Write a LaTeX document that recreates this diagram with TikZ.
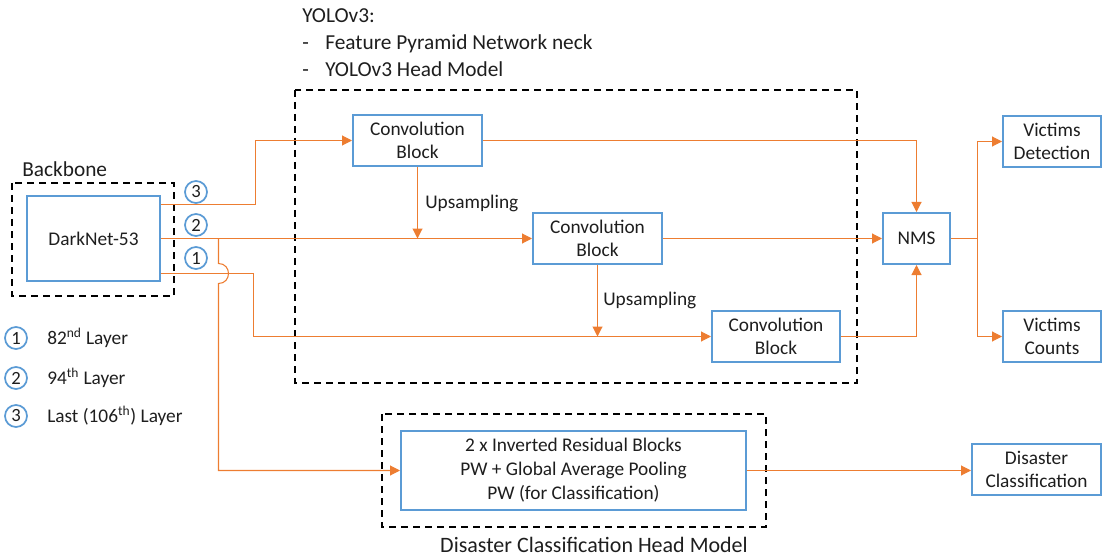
\documentclass[tikz,border=0pt]{standalone}
\usepackage{fontspec}
\setmainfont{Carlito}
\usetikzlibrary{arrows.meta}
\definecolor{boxblue}{RGB}{91,155,213}
\definecolor{flow}{RGB}{237,125,49}
\definecolor{ink}{RGB}{30,30,30}
\tikzset{
  block/.style={draw=boxblue, line width=1.5pt, fill=white, align=center,
    font=\fontsize{14.5}{17.4}\selectfont, text=ink, inner sep=0pt},
  convblock/.style={block, minimum width=96.75pt, minimum height=38.25pt},
  outblock/.style={block, minimum width=73.5pt, minimum height=38.25pt},
  num/.style={draw=boxblue, line width=1.3pt, circle, minimum size=16.5pt,
    inner sep=0pt, font=\fontsize{14}{14}\selectfont, text=ink},
  flowline/.style={draw=flow, line width=0.8pt},
  arr/.style={flowline, -{Triangle[length=7.5pt,width=7.5pt]}},
  dashbox/.style={draw=black, line width=1.5pt, dash pattern=on 5.5pt off 3.5pt},
  label/.style={text=ink, inner sep=0pt},
  title/.style={label, anchor=base west, font=\fontsize{16}{16}\selectfont},
}
\begin{document}
\begin{tikzpicture}[x=0.75pt,y=-0.75pt]
\useasboundingbox (0,0) rectangle (1103,556);

% group frames
\draw[dashbox] (12,183) rectangle (174,296);
\draw[dashbox] (295,90) rectangle (857,383);
\draw[dashbox] (382,414) rectangle (766,527);

% group titles
\node[title] (tb) at (22,176) {Backbone};
\node[title] (ty) at (302,23) {YOLOv3:};
\node[title] (ty1d) at (302,50) {-};
\node[title] (ty1) at (325,50) {Feature Pyramid Network neck};
\node[title] (ty2d) at (302,77) {-};
\node[title] (ty2) at (325,77) {YOLOv3 Head Model};
\node[label, font=\fontsize{16.5}{16.5}\selectfont] (tc) at (594,545) {Disaster Classification Head Model};

% blocks
\node[block, minimum width=99.75pt, minimum height=63.75pt] (dn) at (93.5,238.5) {DarkNet-53};
\node[convblock] (c1) at (417.5,140.5) {Convolution\\Block};
\node[convblock] (c2) at (597.5,238.5) {Convolution\\Block};
\node[convblock, minimum width=96pt] (c3) at (776,336.5) {Convolution\\Block};
\node[block, minimum width=50.25pt, minimum height=38.25pt] (nms) at (916.5,238.5) {NMS};
\node[outblock] (vd) at (1052,141.5) {Victims\\Detection};
\node[outblock] (vc) at (1052,336.5) {Victims\\Counts};
\node[block, minimum width=258.75pt, minimum height=59.25pt,
  font=\fontsize{14.5}{18}\selectfont] (cls) at (573.5,470.5)
  {2 x Inverted Residual Blocks\\PW + Global Average Pooling\\PW (for Classification)};
\node[block, minimum width=96.75pt, minimum height=38.25pt] (dc) at (1036.5,469.5) {Disaster\\Classification};

% output taps of the backbone
\node[num] (n3) at (196,192) {3};
\node[num] (n2) at (196,225) {2};
\node[num] (n1) at (196,258) {1};

% legend
\node[num] (l1) at (16,338) {1};
\node[num] (l2) at (16,378) {2};
\node[num] (l3) at (16,416) {3};
\node[label, anchor=west, font=\fontsize{14.5}{14.5}\selectfont] (t1) at (47,338) {82\textsuperscript{nd} Layer};
\node[label, anchor=west, font=\fontsize{14.5}{14.5}\selectfont] (t2) at (47,378) {94\textsuperscript{th} Layer};
\node[label, anchor=west, font=\fontsize{14.5}{14.5}\selectfont] (t3) at (47,416) {Last (106\textsuperscript{th}) Layer};

% backbone to the three convolution blocks
\draw[arr] (dn.east |- 0,204.5) -- (255.5,204.5) |- (c1.west);
\draw[arr] (dn.east) -- (c2.west);
\draw[arr] (dn.east |- 0,273.5) -- (253.5,273.5) |- (c3.west);

% upsampling paths
\draw[arr] (c1.south) -- (c1.south |- c2.west);
\draw[arr] (c2.south) -- (c2.south |- c3.west);
\node[label, anchor=west, font=\fontsize{14.5}{14.5}\selectfont] (u1) at (425,203) {Upsampling};
\node[label, anchor=west, font=\fontsize{14.5}{14.5}\selectfont] (u2) at (603,300) {Upsampling};

% detections into NMS
\draw[arr] (c1.east) -| (nms.north);
\draw[arr] (c2.east) -- (nms.west);
\draw[arr] (c3.east) -| (nms.south);

% NMS outputs
\coordinate (split) at (977.5,238.5);
\draw[flowline] (nms.east) -- (split);
\draw[arr] (split) |- (vd.west);
\draw[arr] (split) |- (vc.west);

% branch to the classification head, hopping over the 82nd-layer line
\coordinate (br) at (218.5,238.5);
\draw[arr] (br) -- (218.5,263.5) .. controls (231.8,263.5) and (231.8,283.5) .. (218.5,283.5)
  -- (218.5,470.5) -- (cls.west);
\draw[arr] (cls.east) -- (cls.east -| dc.west);
\end{tikzpicture}
\end{document}
